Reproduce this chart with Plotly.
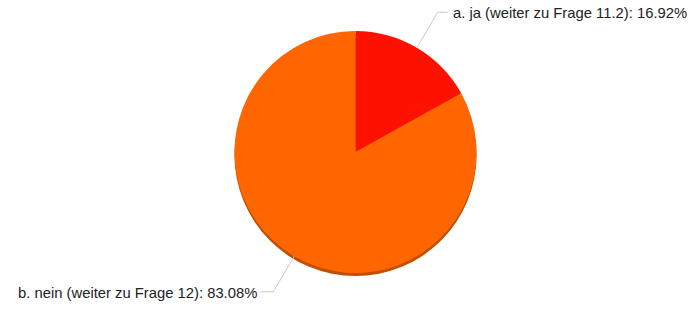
import math
import plotly.graph_objects as go

labels = ["a. ja (weiter zu Frage 11.2)", "b. nein (weiter zu Frage 12)"]
values = [16.92, 83.08]
colors = ["#FF1100", "#FF6600"]

W, H = 696, 309
cx, cy, r = 355.5, 152.0, 121.0   # pixel centre/radius of the pie (layout)

def px(x):
    return x / W

def py(y):
    return 1 - y / H

fig = go.Figure()

# soft shadow beneath the pie
fig.add_trace(go.Pie(
    values=[1], marker=dict(colors=["#C24E00"], line=dict(width=0)),
    textinfo="none", hoverinfo="skip", sort=False, showlegend=False,
    domain=dict(x=[px(cx - r), px(cx + r)], y=[py(cy + r + 3), py(cy - r + 3)]),
))

fig.add_trace(go.Pie(
    labels=labels, values=values, sort=False, direction="clockwise", rotation=0,
    marker=dict(colors=colors, line=dict(width=0)),
    textinfo="none", showlegend=False,
    domain=dict(x=[px(cx - r), px(cx + r)], y=[py(cy + r), py(cy - r)]),
))

# leader lines + labels, computed from slice mid-angles
total = sum(values)
cum = 0.0
shapes, annotations = [], []
for lab, v in zip(labels, values):
    mid = (cum + v / 2) / total * 2 * math.pi
    cum += v
    sx, sy = math.sin(mid), -math.cos(mid)
    x0, y0 = cx + r * sx, cy + r * sy
    x1, y1 = cx + 1.34 * r * sx, cy + 1.34 * r * sy
    right = sx >= 0
    x2 = x1 + (10 if right else -13)
    line = dict(color="#c8c8c8", width=1)
    shapes.append(dict(type="line", xref="paper", yref="paper",
                       x0=px(x0), y0=py(y0), x1=px(x1), y1=py(y1), line=line))
    shapes.append(dict(type="line", xref="paper", yref="paper",
                       x0=px(x1), y0=py(y1), x1=px(x2), y1=py(y1), line=line))
    annotations.append(dict(
        xref="paper", yref="paper", x=px(x2 + (3 if right else -1)), y=py(y1 + 1),
        xanchor="left" if right else "right", yanchor="middle",
        text=f"{lab}: {v:.2f}%", showarrow=False,
        font=dict(family="Liberation Sans, Arial, sans-serif", size=14.8, color="#222222"),
    ))

fig.update_layout(
    width=W, height=H, margin=dict(l=0, r=0, t=0, b=0),
    paper_bgcolor="white", plot_bgcolor="white",
    shapes=shapes, annotations=annotations,
)

fig.write_html("out.html", config={"displayModeBar": False},
               post_script="document.body.style.margin='0';")
